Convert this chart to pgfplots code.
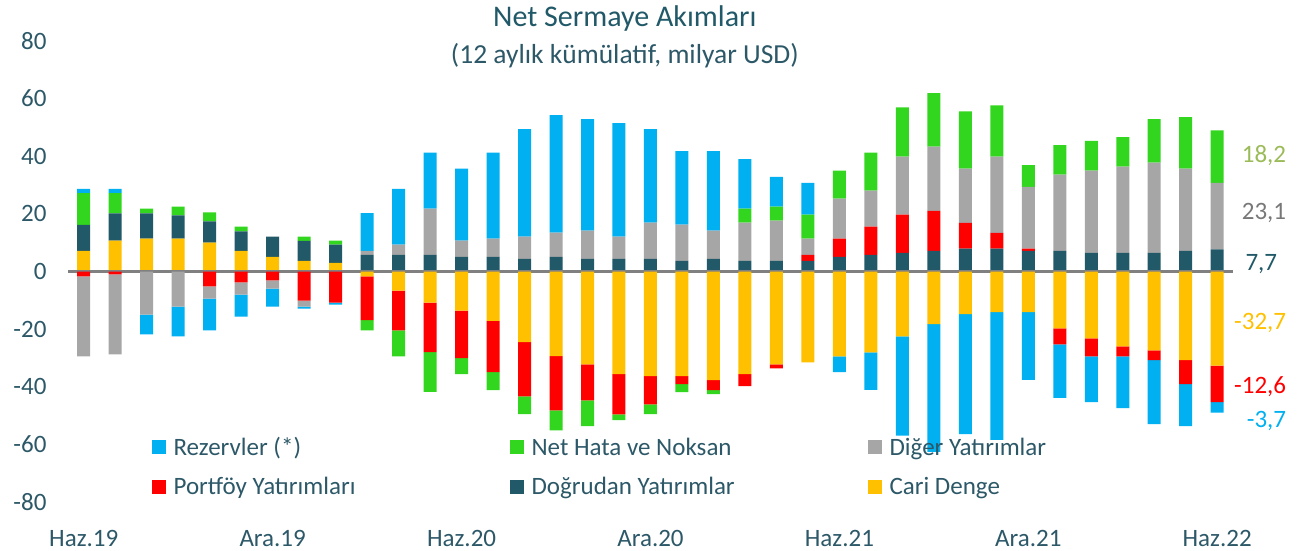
\documentclass[border=0pt]{standalone}
\usepackage{pgfplots}
\pgfplotsset{compat=1.18}
\usepackage{pgfplotstable}
\usepackage{fontspec}
\setmainfont{Carlito}
\definecolor{cRez}{RGB}{0,176,240}
\definecolor{cNH}{RGB}{51,214,31}
\definecolor{cDig}{RGB}{166,166,166}
\definecolor{cPort}{RGB}{255,0,0}
\definecolor{cDog}{RGB}{33,89,104}
\definecolor{cCari}{RGB}{255,192,0}
\definecolor{txt}{RGB}{44,88,104}
\definecolor{lblNH}{RGB}{155,187,89}
\definecolor{lblDig}{RGB}{120,120,120}
\definecolor{zline}{RGB}{128,128,128}

\pgfplotstableread{
x cari dog port dig nh rez
0 7.2 9.0 -1.7 -27.8 11.0 1.5
1 10.7 9.5 -1.0 -27.8 7.0 1.5
2 11.4 8.8 0 -15.0 1.6 -6.8
3 11.4 8.1 0 -12.2 3.0 -10.3
4 10.0 7.4 -5.2 -4.2 3.1 -11.0
5 7.2 6.7 -3.8 -4.2 1.7 -7.7
6 5.1 7.0 -3.1 -2.8 0 -6.3
7 3.7 6.9 -10.1 -2.1 1.5 -0.7
8 3.0 6.3 -10.8 0 1.4 -0.7
9 -1.7 5.8 -15.2 1.4 -3.5 13.1
10 -6.6 5.8 -13.8 3.5 -9.1 19.4
11 -10.8 5.8 -17.2 16.0 -13.8 19.5
12 -13.6 5.1 -16.5 5.6 -5.5 25.0
13 -17.1 5.1 -17.8 6.3 -6.3 29.9
14 -24.5 4.4 -18.8 7.7 -6.2 37.3
15 -29.4 5.1 -18.8 8.4 -6.9 40.8
16 -32.2 4.4 -12.5 9.8 -9.0 38.7
17 -35.6 4.4 -14.0 7.7 -2.0 39.4
18 -36.3 4.4 -9.8 12.6 -3.4 32.4
19 -36.3 3.7 -2.8 12.6 -2.8 25.5
20 -37.7 4.4 -3.5 9.8 -1.4 27.6
21 -35.6 3.7 -4.2 13.3 4.8 17.2
22 -32.2 3.7 -1.4 14.0 4.8 10.3
23 -31.5 3.7 2.1 5.6 8.3 11.1
24 -29.5 5.1 6.3 13.9 9.7 -5.4
25 -28.1 5.8 9.8 12.5 13.2 -13.0
26 -22.5 6.5 13.2 20.2 17.1 -34.5
27 -18.3 7.2 13.8 22.3 18.6 -44.3
28 -14.8 7.9 9.0 18.8 19.9 -41.6
29 -14.1 7.9 5.5 26.5 17.8 -44.3
30 -14.1 7.2 0.7 21.5 7.5 -23.5
31 -19.7 7.2 -5.6 26.4 10.3 -18.6
32 -23.2 6.5 -6.3 28.5 10.3 -15.8
33 -26.0 6.5 -3.5 29.9 10.2 -17.9
34 -27.4 6.5 -3.4 31.3 15.1 -22.2
35 -30.8 7.2 -8.3 28.5 17.9 -14.6
36 -32.7 7.7 -12.6 23.1 18.2 -3.7
}\flows

\pgfplotsset{
  base/.style={
    scale only axis, width=1165pt, height=461pt,
    at={(0pt,0pt)}, anchor=south west,
    xmin=-0.5, xmax=36.5, ymin=-80, ymax=80,
    enlargelimits=false,
    ybar stacked, bar width=13pt,
  },
}
\newcommand{\bigf}{\fontsize{25}{30}\selectfont}
\newcommand{\legtxt}[1]{\makebox[340pt][l]{\hspace{6pt}#1}}

\begin{document}
\begin{tikzpicture}
\useasboundingbox (-68pt,-49pt) rectangle (1233pt,502pt);
% positive parts
\begin{axis}[base,
  axis line style={draw=none},
  tick style={draw=none},
  major tick length=0pt,
  xtick={0,6,...,36},
  xticklabels={Haz.19,Ara.19,Haz.20,Ara.20,Haz.21,Ara.21,Haz.22},
  ytick={-80,-60,...,80},
  /pgf/number format/assume math mode=true,
  tick label style={font=\bigf, text=txt},
  xticklabel style={anchor=base, yshift=-45pt, inner sep=0pt},
  yticklabel style={anchor=east, xshift=-18pt},
]
\addplot[fill=cCari, draw=none] table[x=x, y expr={max(\thisrow{cari},0)}]{\flows};
\addplot[fill=cDog, draw=none] table[x=x, y expr={max(\thisrow{dog},0)}]{\flows};
\addplot[fill=cPort, draw=none] table[x=x, y expr={max(\thisrow{port},0)}]{\flows};
\addplot[fill=cDig, draw=none] table[x=x, y expr={max(\thisrow{dig},0)}]{\flows};
\addplot[fill=cNH, draw=none] table[x=x, y expr={max(\thisrow{nh},0)}]{\flows};
\addplot[fill=cRez, draw=none] table[x=x, y expr={max(\thisrow{rez},0)}]{\flows};
\end{axis}
% negative parts
\begin{axis}[base, hide axis, clip=false,
  reverse legend,
  legend columns=3,
  legend image code/.code={\fill[#1] (0pt,-7pt) rectangle (14pt,7pt);},
  legend style={at={(axis description cs:0.069,0.149)}, anchor=north west,
    draw=none, fill=none, font=\bigf, text=txt,
    row sep=16pt, legend cell align=left},
]
\addplot[fill=cCari, draw=none] table[x=x, y expr={min(\thisrow{cari},0)}]{\flows};
\addlegendentry{\legtxt{Cari Denge}}
\addplot[fill=cDog, draw=none] table[x=x, y expr={min(\thisrow{dog},0)}]{\flows};
\addlegendentry{\legtxt{Doğrudan Yatırımlar}}
\addplot[fill=cPort, draw=none] table[x=x, y expr={min(\thisrow{port},0)}]{\flows};
\addlegendentry{\legtxt{Portföy Yatırımları}}
\addplot[fill=cDig, draw=none] table[x=x, y expr={min(\thisrow{dig},0)}]{\flows};
\addlegendentry{\legtxt{Diğer Yatırımlar}}
\addplot[fill=cNH, draw=none] table[x=x, y expr={min(\thisrow{nh},0)}]{\flows};
\addlegendentry{\legtxt{Net Hata ve Noksan}}
\addplot[fill=cRez, draw=none] table[x=x, y expr={min(\thisrow{rez},0)}]{\flows};
\addlegendentry{\legtxt{Rezervler (*)}}
\draw[zline, line width=2.5pt] (axis cs:-0.5,0) -- (axis cs:36.5,0);
\node[font=\bigf, text=lblNH, anchor=east] at (axis cs:38.3,40.3) {18,2};
\node[font=\bigf, text=lblDig, anchor=east] at (axis cs:38.3,20.4) {23,1};
\node[font=\bigf, text=cDog] at (axis cs:37.4,2.7) {7,7};
\node[font=\bigf, text=cCari, anchor=east] at (axis cs:38.3,-17.8) {-32,7};
\node[font=\bigf, text=cPort, anchor=east] at (axis cs:38.3,-39.8) {-12,6};
\node[font=\bigf, text=cRez, anchor=east] at (axis cs:38.3,-52.0) {-3,7};
\node[font=\fontsize{30}{36}\selectfont, text=cDog] at (axis description cs:0.478,1.048) {Net Sermaye Akımları};
\node[font=\fontsize{27.5}{33}\selectfont, text=txt] at (axis description cs:0.478,0.968) {(12 aylık kümülatif, milyar USD)};
\end{axis}
\end{tikzpicture}
\end{document}
